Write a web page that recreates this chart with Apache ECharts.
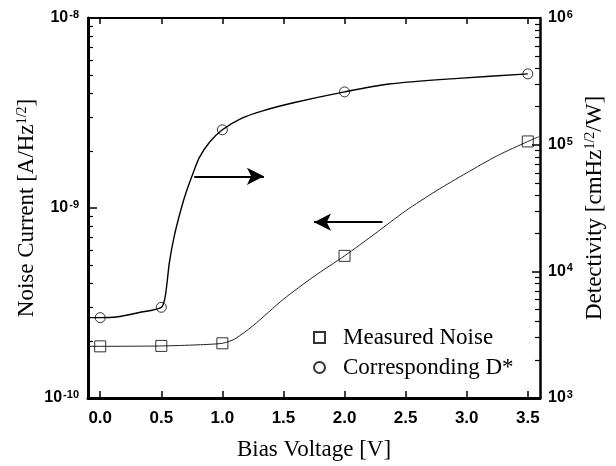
<!DOCTYPE html>
<html>
<head>
<meta charset="utf-8">
<script src="https://cdn.jsdelivr.net/npm/echarts@6/dist/echarts.min.js"></script>
<style>
html,body{margin:0;padding:0;background:#fff;}
#chart{width:616px;height:466px;}
</style>
</head>
<body>
<div id="chart"></div>
<script>
// ---- data ----
const biasPoints = [0, 0.5, 1.0, 2.0, 3.5];
const noisePoints = [1.87e-10, 1.88e-10, 1.94e-10, 5.60e-10, 2.24e-9];
const dStarPoints = [4.31e3, 5.2e3, 1.31e5, 2.61e5, 3.62e5];

const noiseCurveX = [-0.1, 0, 0.5, 0.8, 1.0, 1.1, 1.25, 1.5, 1.75, 2.0, 2.25, 2.5, 2.75, 3.0, 3.25, 3.5, 3.59];
const noiseCurveY = [1.871e-10, 1.871e-10, 1.879e-10, 1.905e-10, 1.941e-10, 2.042e-10, 2.399e-10, 3.311e-10, 4.365e-10, 5.598e-10, 7.328e-10, 9.66e-10, 1.230e-9, 1.531e-9, 1.884e-9, 2.239e-9, 2.371e-9];

const dStarCurveX = [-0.1, 0, 0.13, 0.32, 0.5, 0.533, 0.566, 0.606, 0.661, 0.702, 0.756, 0.811, 0.893, 1.0, 1.16, 1.33, 1.6, 2.0, 2.36, 2.93, 3.5];
const dStarCurveY = [4.31e3, 4.31e3, 4.36e3, 4.73e3, 5.2e3, 6.4e3, 1.17e4, 1.9e4, 3.08e4, 4.17e4, 5.81e4, 7.9e4, 1.04e5, 1.31e5, 1.62e5, 1.85e5, 2.16e5, 2.61e5, 3.01e5, 3.34e5, 3.62e5];

const xTickValues = [0, 0.5, 1.0, 1.5, 2.0, 2.5, 3.0, 3.5];
const leftMajorTicks = [1e-10, 1e-9, 1e-8];
const rightMajorTicks = [1e3, 1e4, 1e5, 1e6];
const leftMinorTicks = [2e-10,3e-10,4e-10,5e-10,6e-10,7e-10,8e-10,9e-10,2e-9,3e-9,4e-9,5e-9,6e-9,7e-9,8e-9,9e-9];
const rightMinorTicks = [2e3,3e3,4e3,5e3,6e3,7e3,8e3,9e3,2e4,3e4,4e4,5e4,6e4,7e4,8e4,9e4,2e5,3e5,4e5,5e5,6e5,7e5,8e5,9e5];

// arrow annotations (data space)
const arrowRight = [[0.77, 5.62e4], [1.34, 5.62e4]];   // points to D* axis
const arrowLeft = [[2.31, 8.42e-10], [1.75, 8.42e-10]]; // points to noise axis

const SANS = '"Liberation Sans", Arial, sans-serif';
const SERIF = '"Liberation Serif", "Times New Roman", serif';

const chart = echarts.init(document.getElementById('chart'), null, {renderer: 'canvas'});

function pow10Label(v) {
  const e = Math.round(Math.log10(v));
  return '{b|10}{s|' + e + '}';
}
const powRich = {
  b: {fontFamily: SANS, fontWeight: 'bold', fontSize: 16, color: '#000'},
  s: {fontFamily: SANS, fontWeight: 'bold', fontSize: 11, color: '#000', verticalAlign: 'top', padding: [0, 0, 6, 1]}
};

const baseX = {
  type: 'value', min: -0.1, max: 3.6,
  splitLine: {show: false},
  axisLine: {show: true, onZero: false, lineStyle: {color: '#000', width: 3}},
};

// tick-only axes drawn in log10 space, so the ticks land on the log positions
function tickAxis(pos, lo, hi, values, len, w) {
  return {
    type: 'value', position: pos, min: Math.log10(lo), max: Math.log10(hi),
    splitLine: {show: false},
    axisLine: {show: false, onZero: false},
    axisTick: {show: true, inside: true, length: len, customValues: values.map(v => Math.log10(v)),
      lineStyle: {color: '#000', width: w}},
    axisLabel: {show: false}
  };
}

const option = {
  animation: false,
  backgroundColor: '#fff',
  grid: {left: 88, right: 76, top: 18, bottom: 67, containLabel: false},
  legend: {
    orient: 'vertical', left: 308, top: 321,
    itemWidth: 11, itemHeight: 11, itemGap: 7,
    data: ['Measured Noise', 'Corresponding D*'],
    textStyle: {fontFamily: SERIF, fontSize: 23, color: '#000', lineHeight: 23, padding: [0, 0, 0, 13]},
    selectedMode: false
  },
  xAxis: [
    Object.assign({}, baseX, {
      position: 'bottom',
      axisTick: {show: true, inside: true, length: 7, customValues: xTickValues, lineStyle: {color: '#000', width: 1.5}},
      axisLabel: {show: true, customValues: xTickValues, margin: 12, formatter: v => v.toFixed(1),
        fontFamily: SANS, fontWeight: 'bold', fontSize: 17, color: '#000'},
      name: 'Bias Voltage [V]', nameLocation: 'middle', nameGap: 40, nameMoveOverlap: false,
      nameTextStyle: {fontFamily: SERIF, fontSize: 23, color: '#000'}
    }),
    Object.assign({}, baseX, {
      position: 'top',
      axisLine: {show: true, onZero: false, lineStyle: {color: '#000', width: 2}},
      axisTick: {show: true, inside: true, length: 6, customValues: xTickValues, lineStyle: {color: '#000', width: 1.5}},
      axisLabel: {show: false}
    })
  ],
  yAxis: [
    {
      type: 'log', logBase: 10, min: 1e-10, max: 1e-8, position: 'left',
      splitLine: {show: false},
      axisLine: {show: true, onZero: false, lineStyle: {color: '#000', width: 3}},
      axisTick: {show: false},
      axisLabel: {formatter: pow10Label, rich: powRich, margin: 9},
      name: 'Noise Current [A/Hz{s|1/2}]', nameLocation: 'middle', nameRotate: 90, nameGap: 50, nameMoveOverlap: false,
      nameTextStyle: {fontFamily: SERIF, fontSize: 23, color: '#000',
        rich: {s: {fontFamily: SERIF, fontSize: 14, color: '#000', verticalAlign: 'top', padding: [0, 0, 8, 0]}}}
    },
    {
      type: 'log', logBase: 10, min: 1e3, max: 1e6, position: 'right',
      splitLine: {show: false},
      axisLine: {show: true, onZero: false, lineStyle: {color: '#000', width: 2.5}},
      axisTick: {show: false},
      axisLabel: {formatter: pow10Label, rich: powRich, margin: 8},
      name: 'Detectivity [cmHz{s|1/2}/W]', nameLocation: 'middle', nameRotate: 90, nameGap: 42,
      nameTextStyle: {fontFamily: SERIF, fontSize: 23, color: '#000',
        rich: {s: {fontFamily: SERIF, fontSize: 14, color: '#000', verticalAlign: 'top', padding: [0, 0, 8, 0]}}}
    },
    tickAxis('left', 1e-10, 1e-8, leftMajorTicks, 9, 1.5),
    tickAxis('left', 1e-10, 1e-8, leftMinorTicks, 5, 1.2),
    tickAxis('right', 1e3, 1e6, rightMajorTicks, 8, 1.5),
    tickAxis('right', 1e3, 1e6, rightMinorTicks, 5, 1.2)
  ],
  series: [
    {
      name: 'noiseFit', type: 'line', xAxisIndex: 0, yAxisIndex: 0,
      data: noiseCurveX.map((x, i) => [x, noiseCurveY[i]]),
      smooth: 0.25, showSymbol: false, symbol: 'none', silent: true,
      lineStyle: {color: '#222', width: 1},
      markLine: {
        silent: true, symbol: ['none', 'arrow'], symbolSize: [13, 17],
        label: {show: false},
        lineStyle: {color: '#000', width: 2, type: 'solid'},
        data: [[{coord: arrowLeft[0]}, {coord: arrowLeft[1]}]]
      }
    },
    {
      name: 'dStarFit', type: 'line', xAxisIndex: 0, yAxisIndex: 1,
      data: dStarCurveX.map((x, i) => [x, dStarCurveY[i]]),
      smooth: 0.25, showSymbol: false, symbol: 'none', silent: true,
      lineStyle: {color: '#000', width: 1.4},
      markLine: {
        silent: true, symbol: ['none', 'arrow'], symbolSize: [13, 17],
        label: {show: false},
        lineStyle: {color: '#000', width: 2, type: 'solid'},
        data: [[{coord: arrowRight[0]}, {coord: arrowRight[1]}]]
      }
    },
    {
      name: 'Measured Noise', type: 'scatter', xAxisIndex: 0, yAxisIndex: 0,
      data: biasPoints.map((x, i) => [x, noisePoints[i]]),
      symbol: 'rect', symbolSize: 11,
      itemStyle: {color: 'rgba(255,255,255,0)', borderColor: '#000', borderWidth: 1},
      z: 5
    },
    {
      name: 'Corresponding D*', type: 'scatter', xAxisIndex: 0, yAxisIndex: 1,
      data: biasPoints.map((x, i) => [x, dStarPoints[i]]),
      symbol: 'circle', symbolSize: 10,
      itemStyle: {color: 'rgba(255,255,255,0)', borderColor: '#000', borderWidth: 1},
      z: 5
    }
  ]
};
chart.setOption(option);
</script>
</body>
</html>
